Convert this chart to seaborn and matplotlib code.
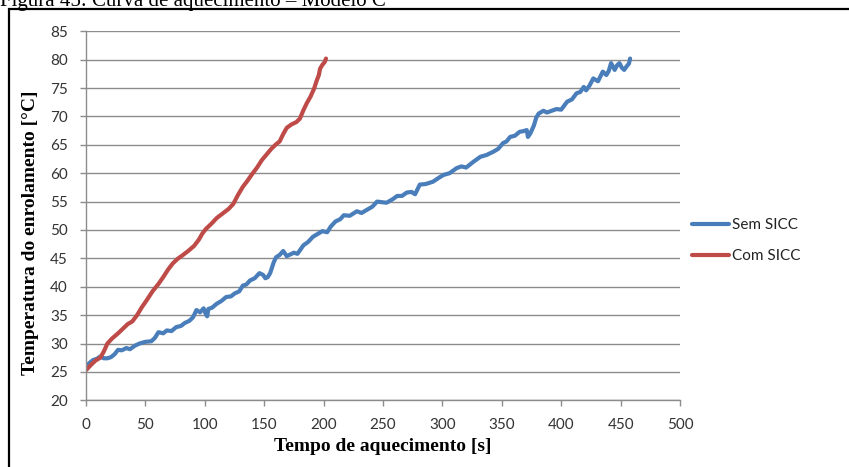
import matplotlib
matplotlib.use("Agg")
import matplotlib.pyplot as plt
from matplotlib.patches import Rectangle
import seaborn as sns
import pandas as pd

# ---- data ----
sem_t = [0, 3, 6, 9, 12, 15, 18, 21, 24, 27, 30, 34, 37, 41, 45, 50, 55, 58, 61, 65,
         68, 72, 76, 80, 83, 87, 90, 93, 96, 99, 101, 102, 103, 106, 110, 114, 118, 122,
         125, 129, 132, 135, 138, 142, 146, 149, 151, 153, 155, 158, 160, 163, 166, 169,
         172, 175, 178, 183, 187, 191, 195, 199, 203, 206, 210, 214, 217, 222, 228, 232,
         236, 241, 245, 249, 253, 258, 262, 266, 270, 274, 277, 281, 286, 292, 297, 301,
         306, 312, 316, 320, 326, 332, 337, 343, 347, 351, 354, 357, 361, 365, 368, 371,
         372, 374, 377, 379, 381, 385, 388, 392, 396, 400, 405, 409, 413, 416, 419, 421,
         424, 427, 431, 435, 438, 440, 442, 444, 445, 447, 449, 451, 453, 455, 457, 458]
sem_temp = [26.0, 26.6, 27.1, 27.3, 27.7, 27.4, 27.4, 27.6, 28.1, 28.9, 28.8, 29.2, 29.0,
            29.6, 30.0, 30.3, 30.4, 31.0, 32.0, 31.8, 32.3, 32.2, 32.9, 33.1, 33.6, 34.0,
            34.6, 35.9, 35.5, 36.2, 35.1, 34.8, 36.1, 36.3, 37.0, 37.5, 38.2, 38.3, 38.8,
            39.2, 40.2, 40.4, 41.1, 41.5, 42.4, 42.1, 41.5, 41.7, 42.4, 44.3, 45.2, 45.6,
            46.3, 45.4, 45.7, 46.0, 45.8, 47.3, 47.9, 48.8, 49.3, 49.8, 49.6, 50.6, 51.5,
            51.9, 52.6, 52.5, 53.3, 53.0, 53.5, 54.1, 55.0, 54.9, 54.8, 55.4, 56.0, 56.0,
            56.6, 56.7, 56.3, 58.0, 58.1, 58.5, 59.2, 59.7, 60.0, 60.9, 61.2, 61.0, 62.0,
            62.9, 63.2, 63.8, 64.3, 65.3, 65.6, 66.4, 66.6, 67.3, 67.4, 67.6, 66.4, 67.0,
            68.4, 69.8, 70.5, 71.0, 70.7, 71.0, 71.3, 71.2, 72.6, 73.0, 74.1, 74.3, 75.2,
            74.6, 75.5, 76.7, 76.2, 77.9, 77.3, 78.0, 79.4, 78.6, 78.2, 79.0, 79.4, 78.6,
            78.2, 78.8, 79.3, 80.2]

com_t = [0, 4, 8, 12, 15, 18, 22, 27, 31, 35, 39, 43, 47, 51, 56, 61, 65, 69, 73, 77,
         81, 86, 91, 95, 98, 101, 106, 110, 115, 120, 124, 128, 132, 136, 140, 144, 148,
         152, 156, 160, 163, 166, 169, 173, 177, 180, 183, 186, 189, 192, 194, 196, 197,
         199, 201, 202]
com_temp = [25.3, 26.2, 27.0, 27.5, 28.6, 30.0, 30.9, 31.8, 32.6, 33.4, 33.9, 35.0, 36.4,
            37.6, 39.2, 40.5, 41.7, 43.0, 44.1, 44.9, 45.5, 46.3, 47.2, 48.3, 49.4, 50.2,
            51.2, 52.1, 52.9, 53.7, 54.6, 56.2, 57.6, 58.7, 59.9, 61.0, 62.3, 63.3, 64.3,
            65.1, 65.6, 66.9, 68.0, 68.6, 69.0, 69.6, 71.1, 72.4, 73.5, 74.9, 76.2, 77.3,
            78.4, 79.1, 79.6, 80.2]

series_names = ["Sem SICC", "Com SICC"]
series_colors = ["#4A7EBB", "#BE4B48"]
x_ticks = [0, 50, 100, 150, 200, 250, 300, 350, 400, 450, 500]
y_ticks = [20, 25, 30, 35, 40, 45, 50, 55, 60, 65, 70, 75, 80, 85]
title_text = "Figura 45: Curva de aquecimento – Modelo C"
x_label = "Tempo de aquecimento [s]"
y_label = "Temperatura do enrolamento [°C]"

df = pd.concat([
    pd.DataFrame({"t": sem_t, "temp": sem_temp, "serie": series_names[0]}),
    pd.DataFrame({"t": com_t, "temp": com_temp, "serie": series_names[1]}),
], ignore_index=True)

sns.set_style("white")
plt.rcParams["font.family"] = ["Lato", "DejaVu Sans"]

fig = plt.figure(figsize=(8.49, 4.67), dpi=100)
ax = fig.add_axes([86 / 849, 1 - 400.3 / 467, 594 / 849, 369 / 467])

sns.lineplot(data=df, x="t", y="temp", hue="serie", palette=series_colors,
             hue_order=series_names, sort=False, estimator=None, linewidth=3.0,
             ax=ax)

ax.set_xlim(0, 500)
ax.set_ylim(20, 85)
ax.set_xticks(x_ticks)
ax.set_yticks(y_ticks)
grid_c = "#8C8C8C"
ax.yaxis.grid(True, color=grid_c, linewidth=1.0)
ax.xaxis.grid(False)
ax.set_axisbelow(True)
for s in ["top", "right"]:
    ax.spines[s].set_visible(False)
for s in ["left", "bottom"]:
    ax.spines[s].set_color(grid_c)
    ax.spines[s].set_linewidth(1.0)
ax.tick_params(axis="both", which="major", direction="out", length=4.5, width=1.0,
               color=grid_c, labelsize=11, labelcolor="#333333", pad=8.5)
ax.tick_params(axis="y", left=True)
ax.tick_params(axis="x", bottom=True)

ax.set_xlabel(x_label, family="Liberation Serif", fontweight="bold", fontsize=14,
              color="black")
ax.set_ylabel(y_label, family="Liberation Serif", fontweight="bold", fontsize=14,
              color="black")
ax.xaxis.set_label_coords(0.5, -0.124)
ax.xaxis.label.set_verticalalignment("center")
ax.yaxis.set_label_coords(-0.094, 0.453)
ax.yaxis.label.set_verticalalignment("center")

leg = ax.legend(loc="center left", bbox_to_anchor=(1.02, 0.433), frameon=False,
                fontsize=11, handlelength=2.45, handletextpad=0.15, labelspacing=1.1,
                borderpad=0, borderaxespad=0, title=None)
for t in leg.get_texts():
    t.set_color("#222222")

fig.text(0.0, 1 - 6 / 467, title_text, family="Liberation Serif", fontsize=15,
         va="baseline", ha="left", color="black")

fig.add_artist(Rectangle((9 / 849, -0.2), 1.5, 1.2 - 9 / 467, fill=False,
                         edgecolor="black", linewidth=1.6, transform=fig.transFigure,
                         clip_on=False))

fig.savefig("out.png", dpi=100)
